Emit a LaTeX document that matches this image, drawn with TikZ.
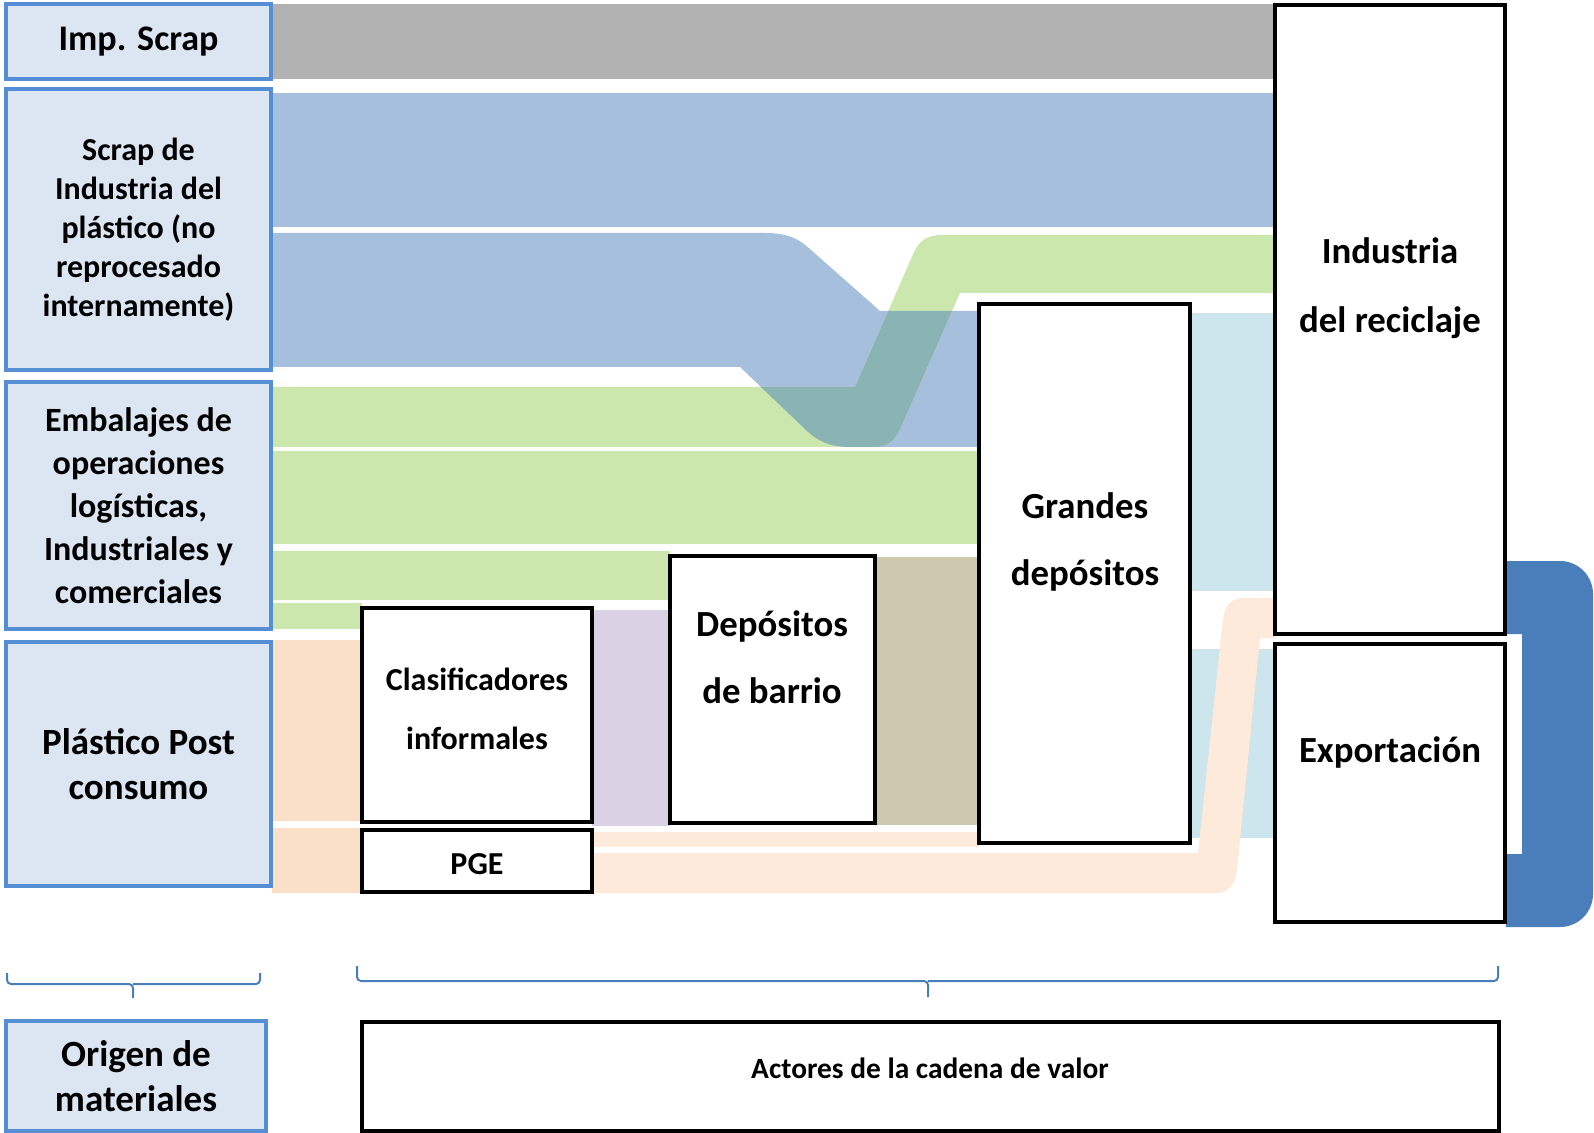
\documentclass[tikz,border=0pt]{standalone}
\usepackage{fontspec}
\setmainfont{Carlito}
\usetikzlibrary{positioning}
\definecolor{srcfill}{HTML}{DCE6F2}
\definecolor{srcline}{HTML}{558ED5}
\definecolor{flgray}{HTML}{B2B2B2}
\definecolor{flblue}{HTML}{A5BFDD}
\definecolor{flgreen}{HTML}{CCE7AE}
\definecolor{flteal}{HTML}{8AB4B4}
\definecolor{flcyan}{HTML}{CDE5EC}
\definecolor{flpeach}{HTML}{FBE0C8}
\definecolor{flpeachlt}{HTML}{FDEADB}
\definecolor{flpurple}{HTML}{DAD2E4}
\definecolor{fltan}{HTML}{CEC8AF}
\definecolor{loopblue}{HTML}{4A7EBB}
\def\bluebend{(272,233) -- (765,233) .. controls (790,233) and (800,240) .. (811,250) -- (880,311) -- (979,311) -- (979,447) -- (849,447) .. controls (830,447) and (818,441) .. (807,431) -- (740,367) -- (272,367) -- cycle}
\def\greenbend{(272,387) -- (855,387) -- (914,252) .. controls (920,240) and (928,235) .. (941,235) -- (1275,235) -- (1275,293) -- (960,293) -- (901,427) .. controls (895,441) and (887,447) .. (876,447) -- (272,447) -- cycle}

\begin{document}
\begin{tikzpicture}[x=0.5pt, y=-0.5pt,
    srcbox/.style={
    draw=srcline,
    fill=srcfill,
    line width=2pt,
    anchor=north west,
    inner sep=0pt,
    outer sep=0pt,
    minimum width=132.5pt,
    align=center},
    actbox/.style={draw=black, fill=white, line width=2.25pt, anchor=north west, inner sep=0pt, outer sep=0pt},
    txt/.style={align=center, inner sep=0pt},
    brc/.style={draw=loopblue, line width=1pt, rounded corners=2pt}
    ]
    \useasboundingbox (0,0) rectangle (1594,1133);

    \fill[flgray] (272,4) rectangle (1275,79);
    \fill[flblue] (272,93) rectangle (1275,227);
    \fill[flblue] \bluebend;
    \fill[flgreen] \greenbend;
    \begin{scope}
        \clip \bluebend;
        \fill[flteal] \greenbend;
    \end{scope}
    \fill[flgreen] (272,451) rectangle (979,544);
    \fill[flgreen] (272,551) rectangle (670,600);
    \fill[flgreen] (272,603) rectangle (362,629);
    \fill[flpeach] (272,640) rectangle (362,821);
    \fill[flpeach] (272,828) rectangle (362,893);
    \fill[flpurple] (592,610) rectangle (670,826);
    \fill[fltan] (875,557) rectangle (979,825);
    \fill[flcyan] (1190,313) rectangle (1275,591);
    \fill[flcyan] (1190,649) rectangle (1275,838);
    \fill[flpeachlt] (592,832) rectangle (979,847);
    \fill[flpeachlt] (592,853) -- (1198,853) -- (1223,618) .. controls (1225,605) and (1232,598) .. (1242,598) -- (1275,598) -- (1275,638) -- (1260,638) -- (1237,870) .. controls (1235,885) and (1228,893) .. (1217,893) -- (592,893) -- cycle;
    \fill[loopblue] (1506,561) -- (1560,561) arc[start angle=270, end angle=360, radius=33] -- (1593,894) arc[start angle=0, end angle=90, radius=33] -- (1506,927) -- (1506,854) -- (1522,854) -- (1522,634) -- (1506,634) -- cycle;

    \node[srcbox, minimum height=37.5pt, font=\bfseries\fontsize{18}{21}\selectfont] (imp) at (6,4) {Imp. Scrap};
    \node[srcbox, minimum height=140.5pt, font=\bfseries\fontsize{16}{19.5}\selectfont] (scr) at (6,89) {Scrap de\\Industria del\\plástico (no\\reprocesado\\internamente)};
    \node[srcbox, minimum height=123.5pt, font=\bfseries\fontsize{17}{21.5}\selectfont] (emb) at (6,382) {Embalajes de\\operaciones\\logísticas,\\Industriales y\\comerciales};
    \node[srcbox, minimum height=122pt, font=\bfseries\fontsize{18.5}{22.5}\selectfont] (pst) at (6,642) {Plástico Post\\consumo};
    \node[srcbox, minimum width=130pt, minimum height=55pt, font=\bfseries\fontsize{18.5}{22.5}\selectfont] (org) at (6,1021) {Origen de\\materiales};

    \node[actbox, minimum width=115pt, minimum height=107pt] (cla) at (362,608) {};
    \node[actbox, minimum width=115pt, minimum height=31pt] (pge) at (362,830) {};
    \node[actbox, minimum width=102.5pt, minimum height=133.5pt] (bar) at (670,556) {};
    \node[actbox, minimum width=105.5pt, minimum height=269.5pt] (grd) at (979,304) {};
    \node[actbox, minimum width=115pt, minimum height=314.5pt] (ind) at (1275,5) {};
    \node[actbox, minimum width=115pt, minimum height=139pt] (exp) at (1275,644) {};
    \node[actbox, minimum width=568.5pt, minimum height=54.5pt] (act) at (362,1022) {};

    \node[txt, font=\bfseries\fontsize{16}{29.5}\selectfont] (tcla) at (477,709) {Clasificadores\\informales};
    \node[txt, font=\bfseries\fontsize{16}{19}\selectfont] (tpge) at (477,864) {PGE};
    \node[txt, font=\bfseries\fontsize{18.4}{33.5}\selectfont] (tbar) at (772,657) {Depósitos\\de barrio};
    \node[txt, font=\bfseries\fontsize{18.4}{33.5}\selectfont] (tgrd) at (1085,542) {Grandes\\depósitos};
    \node[txt, font=\bfseries\fontsize{18.4}{34.5}\selectfont] (tind) at (1390,288) {Industria\\del reciclaje};
    \node[txt, font=\bfseries\fontsize{18.4}{22}\selectfont] (texp) at (1390,752) {Exportación};
    \node[txt, font=\bfseries\fontsize{14.7}{17}\selectfont] (tact) at (930,1068) {Actores de la cadena de valor};

    \draw[brc] (7,973) -- (7,984) -- (133,984) -- (133,998) (133,984) -- (260,984) -- (260,973);
    \draw[brc] (357,966) -- (357,981) -- (928,981) -- (928,997) (928,981) -- (1498,981) -- (1498,966);
\end{tikzpicture}
\end{document}
